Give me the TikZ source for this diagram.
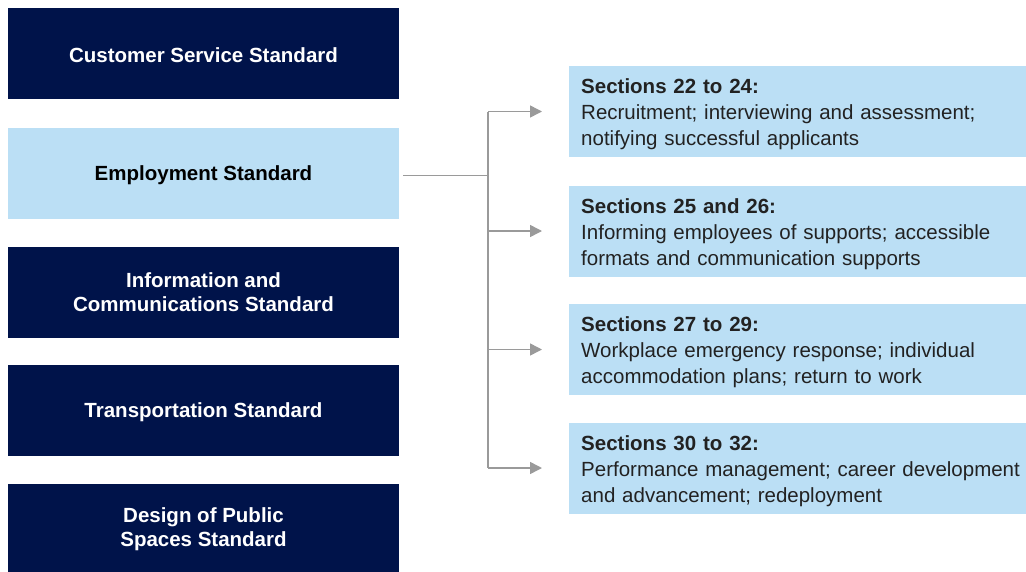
\documentclass[tikz,border=0pt]{standalone}
\usepackage{fontspec}
\setmainfont{Liberation Sans}
\usetikzlibrary{arrows.meta,positioning}

\definecolor{navy}{HTML}{00134A}
\definecolor{paleblue}{HTML}{BBDFF5}
\definecolor{linegray}{HTML}{9A9A9A}
\definecolor{bodytext}{HTML}{222222}

\tikzset{
  stdbox/.style={fill=navy, text=white, font=\fontsize{20.5}{24}\selectfont\bfseries,
    minimum width=391pt, minimum height=91pt, align=center, inner sep=0pt,
    execute at begin node={\rule{0pt}{19pt}}},
  stdhi/.style={stdbox, fill=paleblue, text=black},
  secbox/.style={fill=paleblue, text=bodytext, font=\fontsize{20.5}{26}\selectfont,
    minimum height=91pt, text width=445pt, inner xsep=12pt, inner ysep=0pt,
    align=left, anchor=west, execute at begin node={\rule{0pt}{21pt}}},
  link/.style={draw=linegray, line width=1.5pt}
}

\begin{document}
\begin{tikzpicture}[x=1pt,y=-1pt,>={Triangle[length=12pt,width=12pt]}]
\useasboundingbox (0,0) rectangle (1026,571);
% the five standards
    \node[stdbox] (custserv) at (203.5,53.5) {Customer Service Standard};
    \node[stdhi] (employ) at (203.5,173.5) {Employment Standard};
    \node[stdbox] (infocomm) at (203.5,292) {Information and\\Communications Standard};
    \node[stdbox] (transport) at (203.5,410) {Transportation Standard};
    \node[stdbox] (design) at (203.5,529) {Design of Public\\Spaces Standard};

    % sections of the employment standard
    \node[secbox] (sec22) at (569,111.5) {\textbf{Sections 22 to 24:}\\Recruitment; interviewing and assessment;\\notifying successful applicants};
    \node[secbox] (sec25) at (569,231) {\textbf{Sections 25 and 26:}\\Informing employees of supports; accessible\\formats and communication supports};
    \node[secbox] (sec27) at (569,349.5) {\textbf{Sections 27 to 29:}\\Workplace emergency response; individual\\accommodation plans; return to work};
    \node[secbox] (sec30) at (569,468) {\textbf{Sections 30 to 32:}\\Performance management; career development\\and advancement; redeployment};

    % fork
    \coordinate (fork) at (488,175.5);
    \draw[link] ([xshift=4pt]employ.east |- fork) -- (fork);
    \draw[link] (sec22.west -| fork) -- (sec30.west -| fork);
    \foreach \s in {sec22,sec25,sec27,sec30}
        \draw[link,->] (\s.west -| fork) -- ([xshift=-27pt]\s.west);
\end{tikzpicture}
\end{document}
